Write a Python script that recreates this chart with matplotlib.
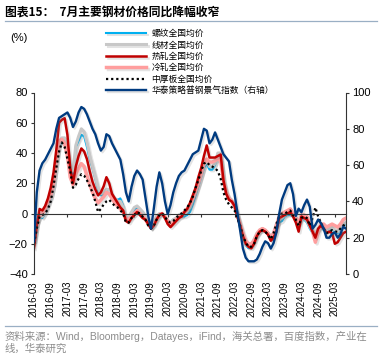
import matplotlib
matplotlib.use("Agg")
import matplotlib.pyplot as plt
from matplotlib import patheffects as pe

plt.rcParams['font.family'] = ['Liberation Sans', 'Noto Sans CJK SC']

# monthly data, 2016-03 .. 2025-07
months = ["%d-%02d" % (2016 + (m + 2) // 12, (m + 2) % 12 + 1) for m in range(113)]

rebar = [-20, -8, -2, -3, 0, 5, 10, 18, 32, 45, 47, 48, 40, 29, 26, 44, 48, 52, 51, 44,
         36, 30, 23, 15, 12, 13, 15, 16, 12, 10, 9, 10, 5, -5, -4, -1, 2, 4, 3, 1,
         -3, -7, -10, -7, -3, -1, 0, -3, -5, -6, -4, -3, -2, -2, -2, -1, 1, 6, 12, 18,
         24, 30, 33, 29, 29, 32, 39, 38, 20, 13, 10, 9, 4, -2, -10, -16, -21, -23, -22, -18,
         -14, -12, -11, -12, -14, -18, -14, -8, -6, -5, -2, -1, -1, -2, -4, -7, -3, -4, -6, -10,
         -13, -14, -11, -9, -11, -12, -11, -10, -12, -13, -10, -8, -7]
wire = [-18, -6, -1, -2, 1, 6, 11, 20, 34, 47, 50, 50, 42, 30, 28, 45, 51, 56, 54, 47,
        38, 31, 24, 17, 13, 14, 16, 16, 12, 10, 8, 8, 4, -4, -2, 1, 4, 5, 3, 1,
        -2, -6, -9, -6, -2, 0, 0, -3, -5, -6, -4, -3, -1, 0, 1, 2, 4, 9, 14, 20,
        26, 32, 35, 31, 31, 33, 40, 40, 21, 14, 10, 9, 4, -1, -8, -15, -20, -22, -21, -17,
        -13, -11, -10, -11, -13, -16, -13, -7, -4, -3, -1, 0, 0, -1, -3, -6, -2, -3, -5, -9,
        -12, -13, -10, -8, -10, -11, -10, -9, -11, -12, -9, -7, -6]
hot = [-23, -8, 3, 2, 5, 10, 17, 27, 42, 60, 62, 63, 52, 30, 20, 31, 38, 43, 41, 36,
       28, 21, 16, 12, 14, 18, 24, 20, 13, 10, 7, 4, 2, -5, -6, -3, -1, 1, -1, -3,
       -4, -7, -10, -8, -4, -1, 0, -3, -7, -9, -7, -5, -3, -2, 1, 3, 7, 12, 17, 24,
       30, 38, 45, 37, 37, 37, 38, 39, 22, 13, 9, 8, 5, -2, -8, -15, -20, -22, -23, -20,
       -15, -12, -11, -12, -14, -18, -16, -12, -3, -2, -1, 0, 1, -2, -6, -12, -2, -3, -4, -8,
       -12, -16, -10, -8, -10, -13, -12, -13, -20, -19, -16, -13, -12]
cold = [-18, -6, -1, 0, 3, 8, 12, 20, 35, 48, 49, 46, 38, 24, 19, 26, 30, 33, 31, 25,
        19, 14, 10, 7, 9, 11, 14, 13, 10, 7, 5, 3, 1, -4, -4, -2, 0, 2, 0, -2,
        -4, -7, -9, -7, -4, -1, 0, -2, -5, -7, -6, -4, -2, -1, 1, 3, 6, 10, 15, 20,
        26, 33, 36, 34, 34, 35, 36, 35, 22, 14, 10, 8, 5, -1, -7, -13, -18, -20, -20, -18,
        -14, -11, -10, -11, -13, -16, -13, -8, -2, 0, 1, 2, 3, 0, -3, -7, -1, -1, -2, -6,
        -12, -19, -12, -7, -7, -9, -8, -7, -8, -9, -7, -4, -3]
plate = [-20, -10, -2, -1, 0, 3, 8, 18, 30, 41, 47, 44, 36, 28, 17, 19, 23, 26, 25, 22,
         18, 14, 8, 1, 3, 6, 8, 9, 7, 5, 4, 2, 0, -6, -6, -3, -1, 1, 0, -2,
         -4, -8, -10, -8, -4, -1, 0, -2, -5, -6, -5, -3, -1, 0, 2, 4, 7, 11, 17, 22,
         28, 33, 34, 32, 31, 30, 28, 23, 14, 9, 6, 4, 2, -3, -8, -15, -19, -22, -22, -20,
         -15, -12, -11, -12, -14, -17, -13, -7, -2, 0, 0, 1, 2, -1, -4, -8, -3, -2, -3, -8,
         -3, 4, -2, -6, -10, -13, -12, -11, -12, -12, -10, -8, -7]
index_r = [18, 45, 57, 61, 63, 66, 69, 72, 80, 86, 87, 88, 89, 86, 81, 84, 89, 92, 91, 88,
           84, 80, 77, 72, 68, 70, 77, 76, 72, 69, 66, 63, 55, 45, 40, 48, 54, 57, 55, 52,
           42, 32, 25, 36, 48, 56, 50, 40, 33, 38, 45, 50, 54, 56, 57, 60, 63, 66, 67, 68,
           74, 80, 79, 72, 74, 78, 74, 70, 66, 64, 62, 52, 44, 34, 24, 14, 9, 7, 7, 7,
           8, 11, 15, 18, 17, 14, 17, 23, 33, 41, 45, 49, 50, 44, 32, 36, 34, 38, 41, 37,
           25, 27, 30, 28, 25, 20, 20, 22, 23, 20, 22, 26, 25]

labels = ["螺纹全国均价", "线材全国均价", "热轧全国均价", "冷轧全国均价", "中厚板全国均价", "华泰策略普钢景气指数（右轴）"]

W, H = 386, 360
fig = plt.figure(figsize=(W / 100, H / 100), dpi=100)
ax = fig.add_axes([34 / W, 1 - 274 / H, (346 - 34) / W, (274 - 92.5) / H])
ax2 = ax.twinx()

x = list(range(len(months)))
sh = [pe.SimpleLineShadow(offset=(1.2, -1.2), alpha=0.22, shadow_color='gray'), pe.Normal()]

l1, = ax.plot(x, rebar, color='#00B0F0', lw=1.5, path_effects=sh)
l2, = ax.plot(x, wire, color='#C8C8C8', lw=2.2, path_effects=sh)
l4, = ax.plot(x, cold, color='#FF9E9E', lw=2.5, path_effects=sh)
l3, = ax.plot(x, hot, color='#C00000', lw=1.8, path_effects=sh)
l5, = ax.plot(x, plate, color='black', lw=1.6, linestyle=(0, (1, 1.3)))
l6, = ax2.plot(x, index_r, color='#003B80', lw=1.7, path_effects=sh)

ax.set_xlim(0, len(months) - 1)
ax.set_ylim(-40, 80)
ax.set_yticks(range(-40, 81, 20))
ax2.set_ylim(0, 100)
ax2.set_yticks(range(0, 101, 20))

for a in (ax, ax2):
    a.spines['top'].set_visible(False)
    for s in a.spines.values():
        s.set_linewidth(0.8)
        s.set_color('#333333')
ax.spines['right'].set_visible(False)
ax2.spines['left'].set_visible(False)
ax2.spines['bottom'].set_visible(False)
ax.spines['bottom'].set_position(('data', 0))
ax.tick_params(axis='y', direction='out', length=2.5, width=0.8, labelsize=8, pad=2, colors='#333333', labelcolor='black')
ax2.tick_params(axis='y', direction='out', length=2.5, width=0.8, labelsize=8, pad=2, colors='#333333', labelcolor='black')
ax.set_xticks(range(0, len(months), 12))
ax.tick_params(axis='x', direction='out', length=2.5, width=0.8, labelbottom=False, colors='#333333')

sec = ax.secondary_xaxis('bottom')
sec.set_xticks(range(0, len(months), 6), [months[i] for i in range(0, len(months), 6)])
sec.tick_params(length=0, pad=5, labelsize=7, labelrotation=90)
sec.spines['bottom'].set_visible(False)

fig.legend([l1, l2, l3, l4, l5, l6], labels, loc='upper left', bbox_to_anchor=(106 / W, 1 - 29 / H),
           frameon=False, handlelength=4.6, handletextpad=0.6, labelspacing=0.28,
           prop={'family': 'Noto Sans CJK SC', 'size': 6.3}, borderaxespad=0, borderpad=0)

fig.text(10 / W, 1 - 38 / H, "(%)", fontsize=8, va='center', ha='left')

fig.text(5 / W, 1 - 12 / H, "图表15：  7月主要钢材价格同比降幅收窄", fontsize=8.5, fontweight='bold',
         family=['Noto Sans CJK SC'], va='center', ha='left')
fig.add_artist(plt.Line2D([5 / W, 377 / W], [1 - 21 / H, 1 - 21 / H], color='#9AAFC4', lw=0.9))
fig.add_artist(plt.Line2D([5 / W, 377 / W], [1 - 326 / H, 1 - 326 / H], color='#9AAFC4', lw=0.9))
fig.text(5 / W, 1 - 336 / H, "资料来源：Wind，Bloomberg，Datayes，iFind，海关总署，百度指数，产业在",
         fontsize=7.5, color='#8C8C8C', va='center', ha='left')
fig.text(5 / W, 1 - 349 / H, "线，华泰研究", fontsize=7.5, color='#8C8C8C', va='center', ha='left')

fig.savefig("out.png", dpi=100)
